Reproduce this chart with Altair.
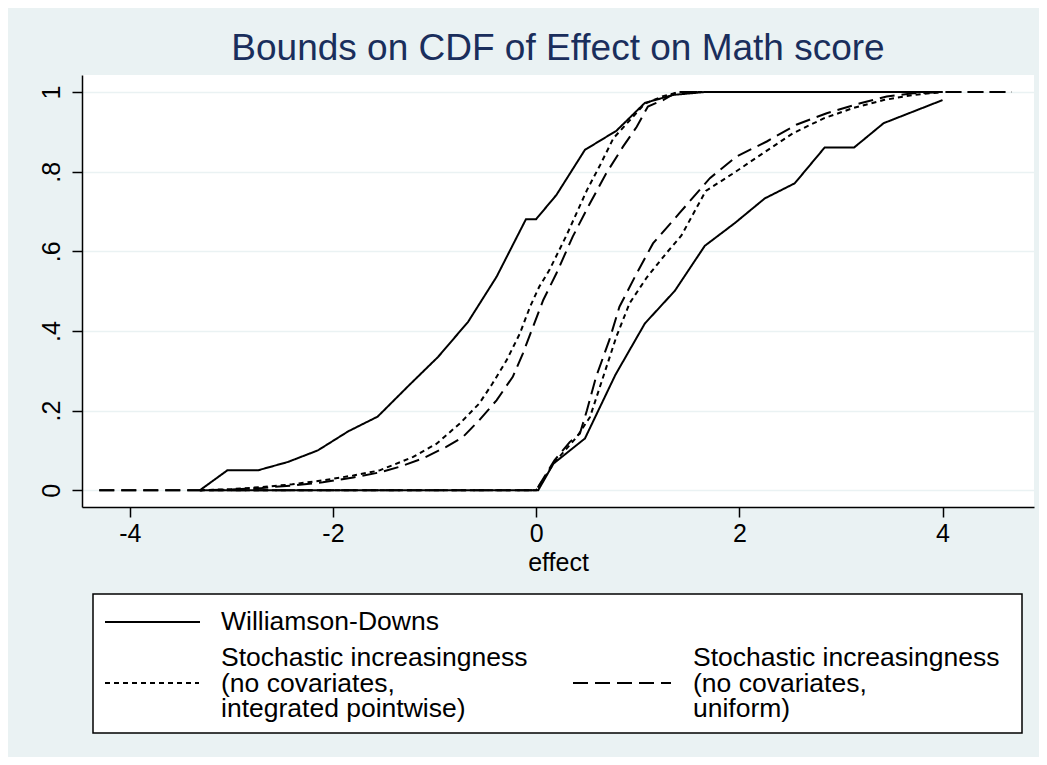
import altair as alt
import pandas as pd

# ---- data ----
wd_up_x = [-3.31, -3.04, -2.74, -2.445, -2.15, -1.85, -1.56, -1.25, -0.965, -0.67, -0.39, -0.1, 0.0, 0.2, 0.48, 0.79, 1.07, 1.35, 1.65, 4.0]
wd_up_y = [0.0, 0.05, 0.05, 0.071, 0.10, 0.148, 0.185, 0.264, 0.335, 0.423, 0.536, 0.681, 0.681, 0.742, 0.855, 0.903, 0.973, 0.993, 1.0, 1.0]

wd_lo_x = [-3.31, 0.02, 0.17, 0.48, 0.78, 1.07, 1.365, 1.66, 1.955, 2.25, 2.545, 2.84, 3.13, 3.42, 4.0]
wd_lo_y = [0.0, 0.0, 0.067, 0.13, 0.29, 0.419, 0.501, 0.614, 0.671, 0.733, 0.771, 0.861, 0.861, 0.922, 0.98]

pw_up_x = [-3.31, -3.0, -2.7, -2.4, -2.1, -1.8, -1.54, -1.21, -0.98, -0.75, -0.56, -0.43, -0.29, -0.16, -0.06, 0.03, 0.13, 0.30, 0.50, 0.63, 0.76, 1.07, 1.25, 1.40, 4.0]
pw_up_y = [0.0, 0.003, 0.008, 0.015, 0.025, 0.037, 0.05, 0.084, 0.117, 0.168, 0.218, 0.268, 0.327, 0.394, 0.461, 0.511, 0.553, 0.641, 0.754, 0.817, 0.884, 0.971, 0.99, 1.0, 1.0]

pw_lo_x = [-3.31, 0.0, 0.18, 0.40, 0.53, 0.66, 0.79, 0.92, 1.09, 1.28, 1.43, 1.67, 1.94, 2.23, 2.53, 2.83, 3.12, 3.42, 3.71, 4.0]
pw_lo_y = [0.0, 0.0, 0.07, 0.134, 0.184, 0.285, 0.386, 0.47, 0.535, 0.595, 0.64, 0.752, 0.796, 0.846, 0.897, 0.934, 0.96, 0.98, 0.993, 1.0]

un_up_x = [-4.3, -3.31, -3.0, -2.7, -2.4, -2.1, -1.8, -1.54, -1.345, -1.115, -0.885, -0.72, -0.56, -0.39, -0.23, -0.13, -0.03, 0.07, 0.2, 0.36, 0.53, 0.69, 0.855, 0.99, 1.1, 1.25, 1.38, 4.68]
un_up_y = [0.0, 0.0, 0.002, 0.006, 0.012, 0.02, 0.032, 0.045, 0.059, 0.08, 0.109, 0.134, 0.176, 0.226, 0.285, 0.344, 0.411, 0.478, 0.545, 0.637, 0.721, 0.796, 0.863, 0.913, 0.964, 0.98, 1.0, 1.0]

un_lo_x = [-4.3, 0.0, 0.18, 0.33, 0.43, 0.50, 0.59, 0.72, 0.82, 0.99, 1.15, 1.41, 1.71, 1.97, 2.27, 2.56, 2.86, 3.19, 3.45, 3.71, 4.0, 4.68]
un_lo_y = [0.0, 0.0, 0.075, 0.121, 0.142, 0.201, 0.285, 0.377, 0.461, 0.545, 0.62, 0.696, 0.784, 0.838, 0.876, 0.918, 0.947, 0.972, 0.989, 0.997, 1.0, 1.0]

methods = ["Williamson-Downs", "Pointwise", "Uniform"]
legend_texts = [
    "Williamson-Downs",
    "Stochastic increasingness\n(no covariates,\nintegrated pointwise)",
    "Stochastic increasingness\n(no covariates,\nuniform)",
]
y_ticks = [0, 0.2, 0.4, 0.6, 0.8, 1.0]
x_ticks = [-4, -2, 0, 2, 4]

series = [
    (methods[0], "upper", wd_up_x, wd_up_y),
    (methods[0], "lower", wd_lo_x, wd_lo_y),
    (methods[1], "upper", pw_up_x, pw_up_y),
    (methods[1], "lower", pw_lo_x, pw_lo_y),
    (methods[2], "upper", un_up_x, un_up_y),
    (methods[2], "lower", un_lo_x, un_lo_y),
]
rows = []
for m, b, xs, ys in series:
    for i, (xv, yv) in enumerate(zip(xs, ys)):
        rows.append({"method": m, "bound": b, "x": xv, "y": yv, "i": i})
df = pd.DataFrame(rows)

FONT = "Liberation Sans"
BG = "#EAF2F3"
DASHES = [[1, 0], [5, 4], [15, 7]]

lines = alt.Chart(df).mark_line(color="black", strokeWidth=2).encode(
    x=alt.X("x:Q", scale=alt.Scale(domain=[-4.47, 4.9], nice=False, zero=False),
            axis=alt.Axis(values=x_ticks, title="effect", grid=False, labelExpr="datum.value")),
    y=alt.Y("y:Q", scale=alt.Scale(domain=[-0.042, 1.043], nice=False, zero=False),
            axis=alt.Axis(values=y_ticks, title=None, grid=True,
                          labelExpr="datum.value==0?'0':datum.value==1?'1':'.'+round(datum.value*10)",
                          labelAngle=270, labelAlign="center", labelBaseline="bottom",
                          labelPadding=8)),
    strokeDash=alt.StrokeDash("method:N", scale=alt.Scale(domain=methods, range=DASHES), legend=None),
    detail="bound:N",
    order="i:Q",
)

# ---- hand-built legend (Stata style box below the plot) ----
one = pd.DataFrame({"k": [0]})
box = alt.Chart(one).mark_rect(fill="white", stroke="black", strokeWidth=1.5).encode(
    x=alt.value(11), x2=alt.value(940), y=alt.value(519), y2=alt.value(658))

samples = []
sample_pos = [(23, 118, 547), (23, 117, 608), (491, 589, 608)]
for (x1, x2, yy), d in zip(sample_pos, DASHES):
    samples.append(alt.Chart(one).mark_rule(color="black", strokeWidth=2, strokeDash=d).encode(
        x=alt.value(x1), x2=alt.value(x2), y=alt.value(yy)))

texts = []
text_pos = [(139, 547), (139, 583), (611, 583)]
for (tx, ty), t in zip(text_pos, legend_texts):
    texts.append(alt.Chart(pd.DataFrame({"t": [t]})).mark_text(
        align="left", baseline="middle", lineBreak="\n", lineHeight=25.5,
        font=FONT, fontSize=26.5, color="black").encode(
        x=alt.value(tx), y=alt.value(ty), text="t:N"))

chart = alt.layer(lines, box, *samples, *texts).properties(
    width=952, height=432,
    title=alt.TitleParams("Bounds on CDF of Effect on Math score", fontSize=37, font=FONT,
                          fontWeight="normal", color="#1a2e5c", anchor="middle",
                          frame="group", offset=15, baseline="alphabetic", dy=37),
    background=BG,
    padding={"left": 74, "top": 67, "right": 5, "bottom": 250},
    autosize=alt.AutoSizeParams(type="none"),
).configure_view(fill="white", stroke=None).configure_axis(
    labelFont=FONT, titleFont=FONT, labelFontSize=25, titleFontSize=25,
    titleFontWeight="normal", labelColor="black", titleColor="black",
    domainColor="black", domainWidth=1.5, tickColor="black", tickWidth=1.5, tickSize=10,
    gridColor=BG, gridWidth=1.5,
).configure_axisX(labelPadding=4, titlePadding=4)

chart.save("out.html", embed_options={"renderer": "svg", "actions": False})
